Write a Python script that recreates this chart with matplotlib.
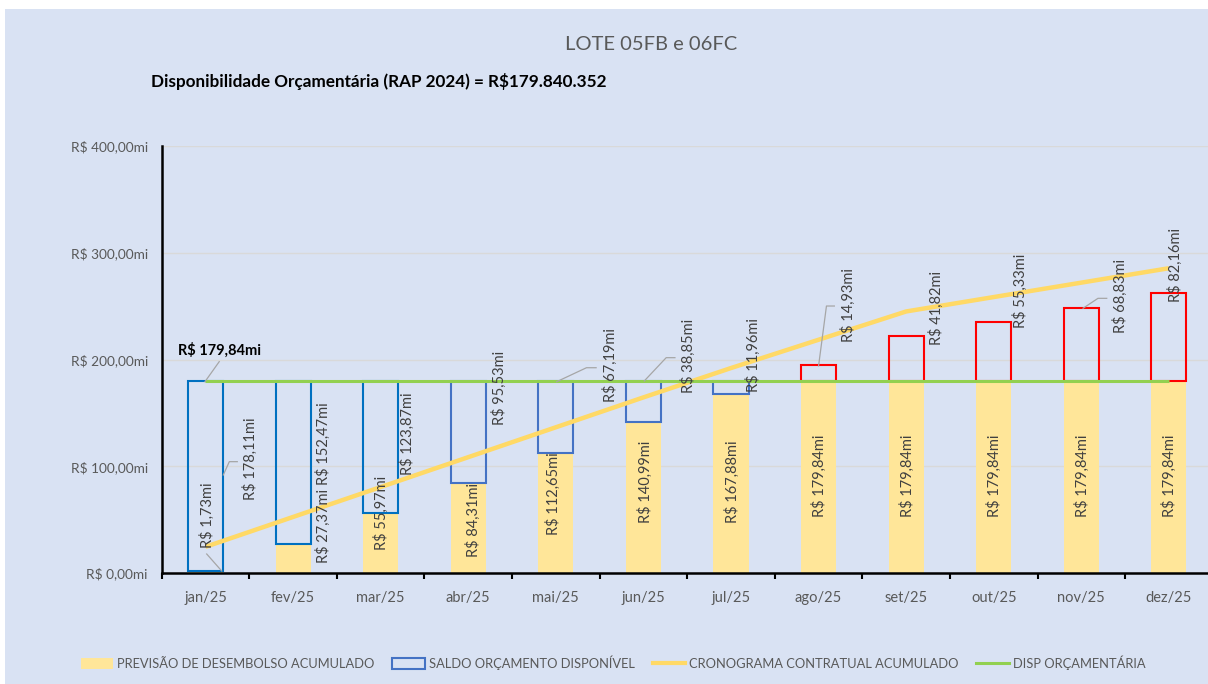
"""
Lote 05FB e 06FC: previsão de desembolso acumulada x disponibilidade orçamentária (RAP 2024).
"""
import matplotlib
matplotlib.use("Agg")
import matplotlib.pyplot as plt
from matplotlib.lines import Line2D
from matplotlib.patches import Patch, Rectangle
import numpy as np

plt.rcParams["font.family"] = ["Lato", "DejaVu Sans"]

MONTHS = ["jan/25", "fev/25", "mar/25", "abr/25", "mai/25", "jun/25",
          "jul/25", "ago/25", "set/25", "out/25", "nov/25", "dez/25"]
PREVISAO = [1.73, 27.37, 55.97, 84.31, 112.65, 140.99, 167.88, 179.84, 179.84, 179.84, 179.84, 179.84]
SALDO = [178.11, 152.47, 123.87, 95.53, 67.19, 38.85, 11.96, 0, 0, 0, 0, 0]
EXCEDENTE = [0, 0, 0, 0, 0, 0, 0, 14.93, 41.82, 55.33, 68.83, 82.16]
CRONOGRAMA = [24.5, 52.5, 80.5, 108.5, 136.5, 164.5, 192.0, 218.5, 245.0, 258.5, 272.0, 285.5]
DISP = 179.84

# label anchors (x offset from category, y of text bottom) - layout only
PREV_LBL = [(0.02, 23.4), (1.34, 9.1), (2.01, 21.5), (3.06, 15.3), (3.97, 35.6), (5.02, 46.5),
            (6.01, 46.5), (7.01, 52.7), (8.01, 52.7), (9.01, 52.7), (10.01, 52.7), (11.01, 52.7)]
SALDO_LBL = [(0.51, 68.4), (1.345, 82.4), (2.30, 91.8), (3.36, 138.6), (4.62, 160.5), (5.51, 168.9),
             (6.26, 169.8), (7.34, 216.7), (8.35, 213.6), (9.30, 229.2), (10.44, 224.5), (11.07, 254.1)]
LEADERS = [
    [(0.014, 17.8), (0.185, 1.9)],
    [(0.203, 91.8), (0.272, 104.3), (0.363, 104.3)],
    [(4.01, 179.2), (4.35, 192.3), (4.46, 192.3)],
    [(5.01, 179.9), (5.26, 201.7), (5.36, 201.7)],
    [(7.0, 194.0), (7.09, 250.1), (7.18, 250.1)],
    [(10.02, 248.0), (10.19, 257.3), (10.29, 257.3)],
    [(-0.006, 179.2), (0.157, 198.0)],
]

BG = "#D9E2F3"
YELLOW_BAR = "#FFE699"
BLUE_EDGES = ["#0070C0"] * 3 + ["#4472C4"] * 9
RED = "#FF0000"
LINE_Y = "#FFD966"
GREEN = "#92D050"
GRAY_TXT = "#595959"
LBL_TXT = "#404040"


def brl(v):
    return f"R$ {v:.2f}mi".replace(".", ",")


fig = plt.figure(figsize=(12.08, 6.84), dpi=100, facecolor="white")
fig.patches.append(Rectangle((5 / 1208, 0), 1, 1 - 9 / 684, transform=fig.transFigure,
                             facecolor=BG, edgecolor="none", zorder=-10))
ax = fig.add_axes([161.7 / 1208, 111 / 684, 1051 / 1208, 427 / 684])
ax.patch.set_alpha(0)

x = np.arange(len(MONTHS))
w = 0.4
ax.bar(x, PREVISAO, w, color=YELLOW_BAR, zorder=2)
for i in range(len(MONTHS)):
    if SALDO[i] > 0:
        ax.bar(x[i], SALDO[i], w, bottom=PREVISAO[i], facecolor="none",
               edgecolor=BLUE_EDGES[i], lw=1.5, zorder=3)
    if EXCEDENTE[i] > 0:
        ax.bar(x[i], EXCEDENTE[i], w, bottom=DISP, facecolor="none",
               edgecolor=RED, lw=1.5, zorder=3)

ax.plot(x, CRONOGRAMA, color=LINE_Y, lw=3.2, solid_capstyle="butt", zorder=4)
ax.plot(x, [DISP] * len(x), color=GREEN, lw=2.2, solid_capstyle="butt", zorder=5)

for i in range(len(MONTHS)):
    px, py = PREV_LBL[i]
    ax.text(px, py, brl(PREVISAO[i]), rotation=90, ha="center", va="bottom",
            fontsize=10.5, color=LBL_TXT, zorder=6)
    val = SALDO[i] if SALDO[i] > 0 else EXCEDENTE[i]
    sx, sy = SALDO_LBL[i]
    ax.text(sx, sy, brl(val), rotation=90, ha="center", va="bottom",
            fontsize=10.5, color=LBL_TXT, zorder=6)
for pts in LEADERS:
    xs, ys = zip(*pts)
    ax.plot(xs, ys, color="#A6A6A6", lw=0.9, zorder=6)
ax.text(-0.31, 208.9, brl(DISP), fontsize=10.5, fontweight="bold", color="black",
        ha="left", va="center", zorder=6)

ax.set_xlim(-0.5, len(MONTHS) - 0.5)
ax.set_ylim(0, 400)
ax.set_yticks([0, 100, 200, 300, 400])
ax.set_yticklabels([brl(v) for v in [0, 100, 200, 300, 400]])
ax.set_xticks(x)
ax.set_xticklabels(MONTHS)
ax.set_xticks(np.arange(-0.5, len(MONTHS)), minor=True)
ax.tick_params(axis="x", which="major", length=0, pad=13, labelsize=10.5, colors=GRAY_TXT)
ax.tick_params(axis="x", which="minor", length=4, width=1.5, direction="out", color="black")
ax.tick_params(axis="y", length=0, pad=10, labelsize=9.8, colors=GRAY_TXT)
ax.grid(axis="y", color="#D9D9D9", lw=1, zorder=1)
ax.set_axisbelow(True)
for s in ["top", "right"]:
    ax.spines[s].set_visible(False)
for s in ["left", "bottom"]:
    ax.spines[s].set_linewidth(1.8)
    ax.spines[s].set_color("black")

fig.text(651 / 1208, 1 - 45 / 684, "LOTE 05FB e 06FC", fontsize=14.5, color=GRAY_TXT,
         ha="center", va="center")
fig.text(151 / 1208, 1 - 82 / 684, "Disponibilidade Orçamentária (RAP 2024) = R$179.840.352",
         fontsize=12.3, fontweight="bold", color="black", ha="left", va="center")

handles = [
    Patch(facecolor=YELLOW_BAR, edgecolor="none"),
    Patch(facecolor="none", edgecolor="#4472C4", lw=1.5),
    Line2D([], [], color=LINE_Y, lw=3),
    Line2D([], [], color=GREEN, lw=2.2),
]
labels = ["PREVISÃO DE DESEMBOLSO ACUMULADO", "SALDO ORÇAMENTO DISPONÍVEL",
          "CRONOGRAMA CONTRATUAL ACUMULADO", "DISP ORÇAMENTÁRIA"]
leg = fig.legend(handles, labels, loc="center", bbox_to_anchor=(613 / 1208, 21 / 684), ncol=4,
                 frameon=False, fontsize=9.3, handlelength=2.5, handleheight=0.9,
                 handletextpad=0.3, columnspacing=1.4)
for t in leg.get_texts():
    t.set_color(GRAY_TXT)

fig.savefig("out.png", dpi=100, facecolor="white")
